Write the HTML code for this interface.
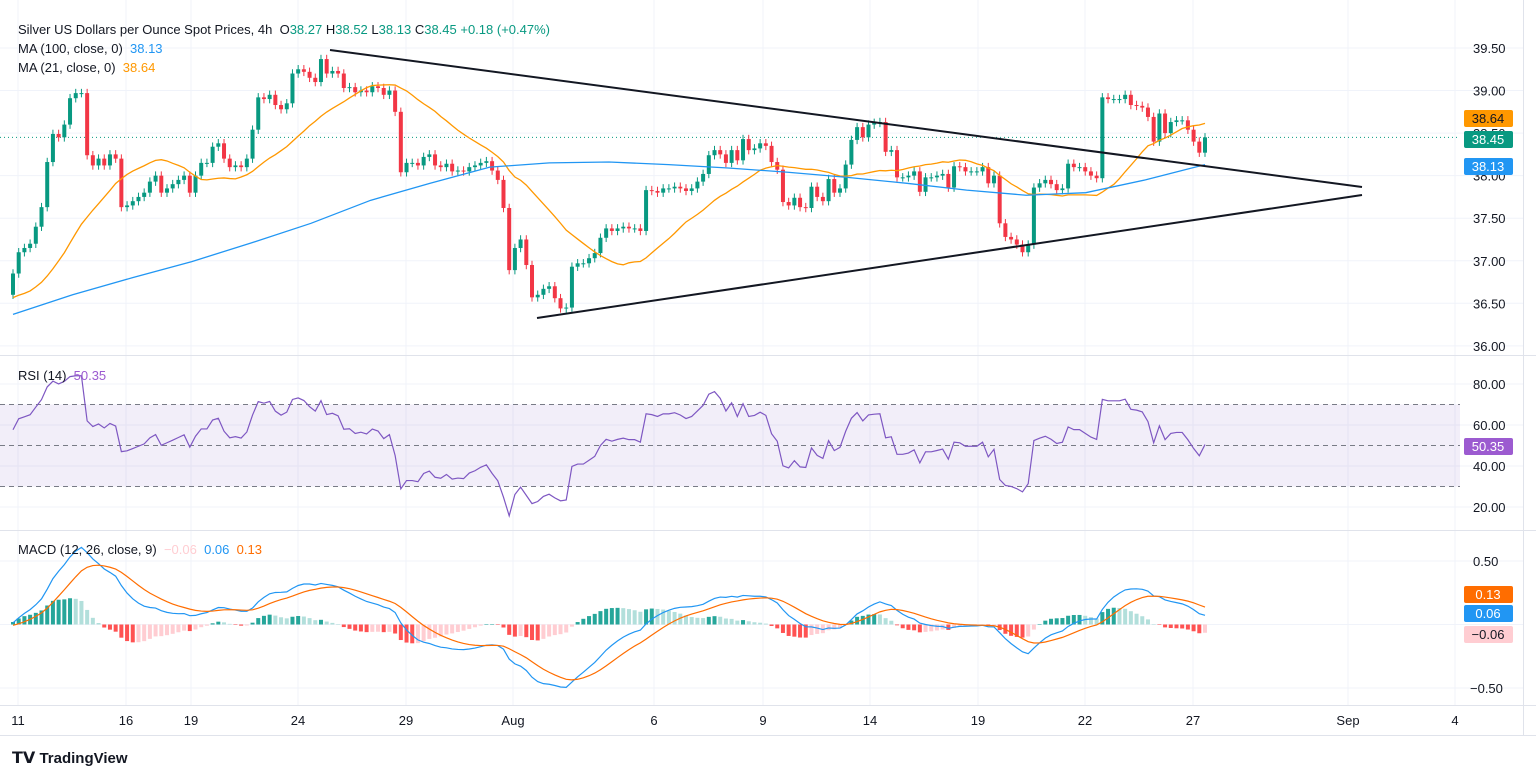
<!DOCTYPE html>
<html><head><meta charset="utf-8">
<style>
html,body{margin:0;padding:0;background:#fff;width:1536px;height:777px;overflow:hidden;font-family:"Liberation Sans",Arial,sans-serif;}
svg{position:absolute;left:0;top:0}
.lg{position:absolute;font-size:13px;color:#131722;white-space:nowrap}
</style></head>
<body>
<svg id="c" width="1536" height="777"></svg>
<div class="lg" style="left:18px;top:22px">Silver US Dollars per Ounce Spot Prices, 4h&nbsp; <span style="color:#131722">O</span><span style="color:#089981">38.27</span> <span>H</span><span style="color:#089981">38.52</span> <span>L</span><span style="color:#089981">38.13</span> <span>C</span><span style="color:#089981">38.45 +0.18 (+0.47%)</span></div>
<div class="lg" style="left:18px;top:41px">MA (100, close, 0)&nbsp; <span style="color:#2196f3">38.13</span></div>
<div class="lg" style="left:18px;top:60px">MA (21, close, 0)&nbsp; <span style="color:#ff9800">38.64</span></div>
<div class="lg" style="left:18px;top:368px">RSI (14)&nbsp; <span style="color:#9c5bd0">50.35</span></div>
<div class="lg" style="left:18px;top:542px">MACD (12, 26, close, 9)&nbsp; <span style="color:#ffcdd2">−0.06</span>&nbsp; <span style="color:#2196f3">0.06</span>&nbsp; <span style="color:#ff6d00">0.13</span></div>
<div class="lg" style="left:12px;top:748px;font-size:15px;font-weight:bold"><span style="font-size:16px">𝗧𝗩</span> TradingView</div>
<script>
const prehistory=[36.6,36.5,36.7,36.6,36.5,36.4,36.6,36.7,36.5,36.6,36.5,36.7,36.6,36.4,36.5,36.6,36.7,36.5,36.6,36.5,36.6,36.7,36.5,36.4,36.6,36.5,36.6,36.5,36.45,36.6];
const closes=[
36.85,37.1,37.15,37.2,37.4,37.63,38.16,38.49,38.45,38.6,38.91,38.97,38.97,38.24,38.12,38.2,38.12,38.25,38.2,37.63,37.65,37.7,37.75,37.8,37.93,38.0,37.8,37.85,37.9,37.95,38.0,37.8,38.0,38.15,38.15,38.34,38.38,38.2,38.1,38.12,38.1,38.2,38.54,38.92,38.9,38.95,38.83,38.78,38.85,39.2,39.25,39.22,
39.15,39.1,39.37,39.2,39.23,39.2,39.03,39.04,38.98,39.0,38.98,39.05,39.03,38.95,39.0,38.75,38.04,38.15,38.15,38.12,38.22,38.25,38.12,38.1,38.14,38.05,38.06,38.05,38.1,38.12,38.15,38.17,38.06,37.95,37.62,36.89,37.15,37.25,36.95,36.57,36.6,36.67,36.7,36.56,36.44,36.45,36.93,36.97,36.97,37.03,37.09,37.27,37.38,
37.35,37.38,37.4,37.38,37.38,37.35,37.83,37.82,37.8,37.85,37.85,37.87,37.85,37.82,37.85,37.93,38.02,38.24,38.3,38.25,38.15,38.3,38.18,38.43,38.3,38.32,38.38,38.35,38.16,38.07,37.69,37.65,37.74,37.63,37.62,37.87,37.75,37.7,37.96,37.8,37.85,38.13,38.42,38.57,38.45,38.6,38.62,38.63,38.28,38.3,37.98,37.98,38.0,
38.05,37.81,37.98,37.98,38.0,38.02,37.86,38.11,38.1,38.05,38.05,38.05,38.1,37.91,38.0,37.44,37.28,37.25,37.19,37.1,37.19,37.86,37.91,37.95,37.9,37.83,37.85,38.14,38.1,38.1,38.05,38.0,37.97,38.92,38.9,38.9,38.9,38.95,38.83,38.82,38.8,38.69,38.4,38.73,38.5,38.63,38.65,38.65,38.54,38.4,38.27,38.45];
const ma100Samples=[36.37,36.60,36.80,36.99,37.21,37.44,37.71,37.91,38.10,38.15,38.16,38.13,38.09,38.04,37.98,37.91,37.83,37.77,37.80,37.95,38.13];
const priceTicks=[39.5,39.0,38.5,38.0,37.5,37.0,36.5,36.0];
const rsiTicks=[80,60,40,20];
const macdTicks=[0.5,0,-0.5];
const dateLabels=["11","16","19","24","29","Aug","6","9","14","19","22","27","Sep","4"];
const dateX=[18,126,191,298,406,513,654,763,870,978,1085,1193,1348,1455];

const NS="http://www.w3.org/2000/svg";
const svg=document.getElementById('c');
function el(t,a,p){const e=document.createElementNS(NS,t);for(const k in a)e.setAttribute(k,a[k]);(p||svg).appendChild(e);return e;}
const X0=13,X1=1205,n=closes.length;
const xs=i=>X0+i*(X1-X0)/(n-1);
const yP=p=>48+(39.5-p)*85.1;
const yR=v=>384+(80-v)*2.05;
const yM=v=>624.5-v*127;
const PR=1523;
// grid
for(const x of dateX){const g=el('line',{x1:x,x2:x,y1:0,y2:705,stroke:'#f0f3fa'});}
for(const p of priceTicks){el('line',{x1:0,x2:PR,y1:yP(p),y2:yP(p),stroke:'#f0f3fa'});
 const t=el('text',{x:1473,y:yP(p)+5,'font-size':13,fill:'#131722'});t.textContent=p.toFixed(2);}
for(const v of rsiTicks){el('line',{x1:0,x2:PR,y1:yR(v),y2:yR(v),stroke:'#f0f3fa'});
 const t=el('text',{x:1473,y:yR(v)+5,'font-size':13,fill:'#131722'});t.textContent=v.toFixed(2);}
for(const v of macdTicks){el('line',{x1:0,x2:PR,y1:yM(v),y2:yM(v),stroke:'#f0f3fa'});
 if(v!==0){const t=el('text',{x:v<0?1470:1473,y:yM(v)+5,'font-size':13,fill:'#131722'});t.textContent=(v<0?'−':'')+Math.abs(v).toFixed(2);}}
dateLabels.forEach((d,i)=>{const t=el('text',{x:dateX[i],y:725,'font-size':13,fill:'#131722','text-anchor':'middle'});t.textContent=d;});
// separators
el('line',{x1:0,x2:1536,y1:355.5,y2:355.5,stroke:'#e0e3eb'});
el('line',{x1:0,x2:1536,y1:530.5,y2:530.5,stroke:'#e0e3eb'});
el('line',{x1:0,x2:1536,y1:705.5,y2:705.5,stroke:'#e0e3eb'});
el('line',{x1:0,x2:1536,y1:735.5,y2:735.5,stroke:'#e0e3eb'});
el('line',{x1:PR+.5,x2:PR+.5,y1:0,y2:735,stroke:'#e0e3eb'});
// RSI band
el('rect',{x:0,y:yR(70),width:1460,height:yR(30)-yR(70),fill:'rgba(126,87,194,0.1)'});
for(const v of [70,50,30])el('line',{x1:0,x2:1460,y1:yR(v),y2:yR(v),stroke:'#787b86','stroke-dasharray':'5,4'});
// last price line
el('line',{x1:0,x2:1460,y1:yP(38.45),y2:yP(38.45),stroke:'#089981','stroke-dasharray':'1,3'});
// candles
const all=prehistory.concat(closes);const off=prehistory.length;
for(let i=0;i<n;i++){
 const c=closes[i],o=all[off+i-1];const up=c>=o;const col=up?'#089981':'#f23645';
 const hi=Math.max(o,c)+0.05,lo=Math.min(o,c)-0.05;const x=xs(i);
 const w=el('line',{x1:x,x2:x,y1:yP(hi),y2:yP(lo),stroke:col});
 const b=el('rect',{x:x-2,y:Math.min(yP(o),yP(c)),width:4,height:Math.max(1,Math.abs(yP(o)-yP(c))),fill:col});
 
 
}
// MA21
let pts=[];for(let i=0;i<n;i++){let s=0;for(let k=0;k<21;k++)s+=all[off+i-k];pts.push(xs(i)+','+yP(s/21));}
let l=el('polyline',{points:pts.join(' '),fill:'none',stroke:'#ff9800','stroke-width':1.3});
// MA100
pts=ma100Samples.map((v,j)=>xs(Math.min(n-1,j*(n-1)/(ma100Samples.length-1)))+','+yP(v));
l=el('polyline',{points:pts.join(' '),fill:'none',stroke:'#2196f3','stroke-width':1.3});
// trend lines
l=el('line',{x1:330,y1:50,x2:1362,y2:187,stroke:'#131722','stroke-width':2});
l=el('line',{x1:537,y1:318,x2:1362,y2:195,stroke:'#131722','stroke-width':2});
// RSI
let ag=0,al=0;const rsi=[];
for(let j=1;j<all.length;j++){const d=all[j]-all[j-1];const g=Math.max(d,0),lo=Math.max(-d,0);
 if(j<=14){ag+=g/14;al+=lo/14;}else{ag=(ag*13+g)/14;al=(al*13+lo)/14;}
 if(j>=off)rsi.push(al===0?100:100-100/(1+ag/al));}
pts=rsi.map((v,i)=>xs(i)+','+yR(v));
l=el('polyline',{points:pts.join(' '),fill:'none',stroke:'#7e57c2','stroke-width':1.2});
// MACD
let e12=all[0],e26=all[0],sig=0;const mac=[],sg=[];
for(let j=0;j<all.length;j++){e12+=(all[j]-e12)*2/13;e26+=(all[j]-e26)*2/27;const m=e12-e26;sig+=(m-sig)*2/10;if(j>=off){mac.push(m);sg.push(sig);}}
let prevH=0;
for(let i=0;i<n;i++){const h=mac[i]-sg[i];let col;
 if(h>=0)col=h>=prevH?'#26a69a':'#b2dfdb';else col=h<prevH?'#ff5252':'#ffcdd2';prevH=h;
 const r=el('rect',{x:xs(i)-2,y:Math.min(yM(0),yM(h)),width:4,height:Math.max(0.5,Math.abs(yM(h)-yM(0))),fill:col});
 
 }
l=el('polyline',{points:mac.map((v,i)=>xs(i)+','+yM(v)).join(' '),fill:'none',stroke:'#2196f3','stroke-width':1.2});
l=el('polyline',{points:sg.map((v,i)=>xs(i)+','+yM(v)).join(' '),fill:'none',stroke:'#ff6d00','stroke-width':1.2});
// axis badges
function badge(y,txt,bg,fg,name){const r=el('rect',{x:1464,y:y-8,width:49,height:17,rx:2,fill:bg});
 const t=el('text',{x:1488,y:y+5,'font-size':13,fill:fg,'text-anchor':'middle'});t.textContent=txt;}
badge(118,'38.64','#ff9800','#131722','ma21-badge');
badge(139,'38.45','#089981','#fff','price-badge');
badge(166,'38.13','#2196f3','#fff','ma100-badge');
badge(446,'50.35','#9c5bd0','#fff','rsi-badge');
badge(594,'0.13','#ff6d00','#fff','signal-badge');
badge(613,'0.06','#2196f3','#fff','macd-badge');
badge(634,'−0.06','#ffcdd2','#131722','histogram-badge');
</script>
</body></html>
